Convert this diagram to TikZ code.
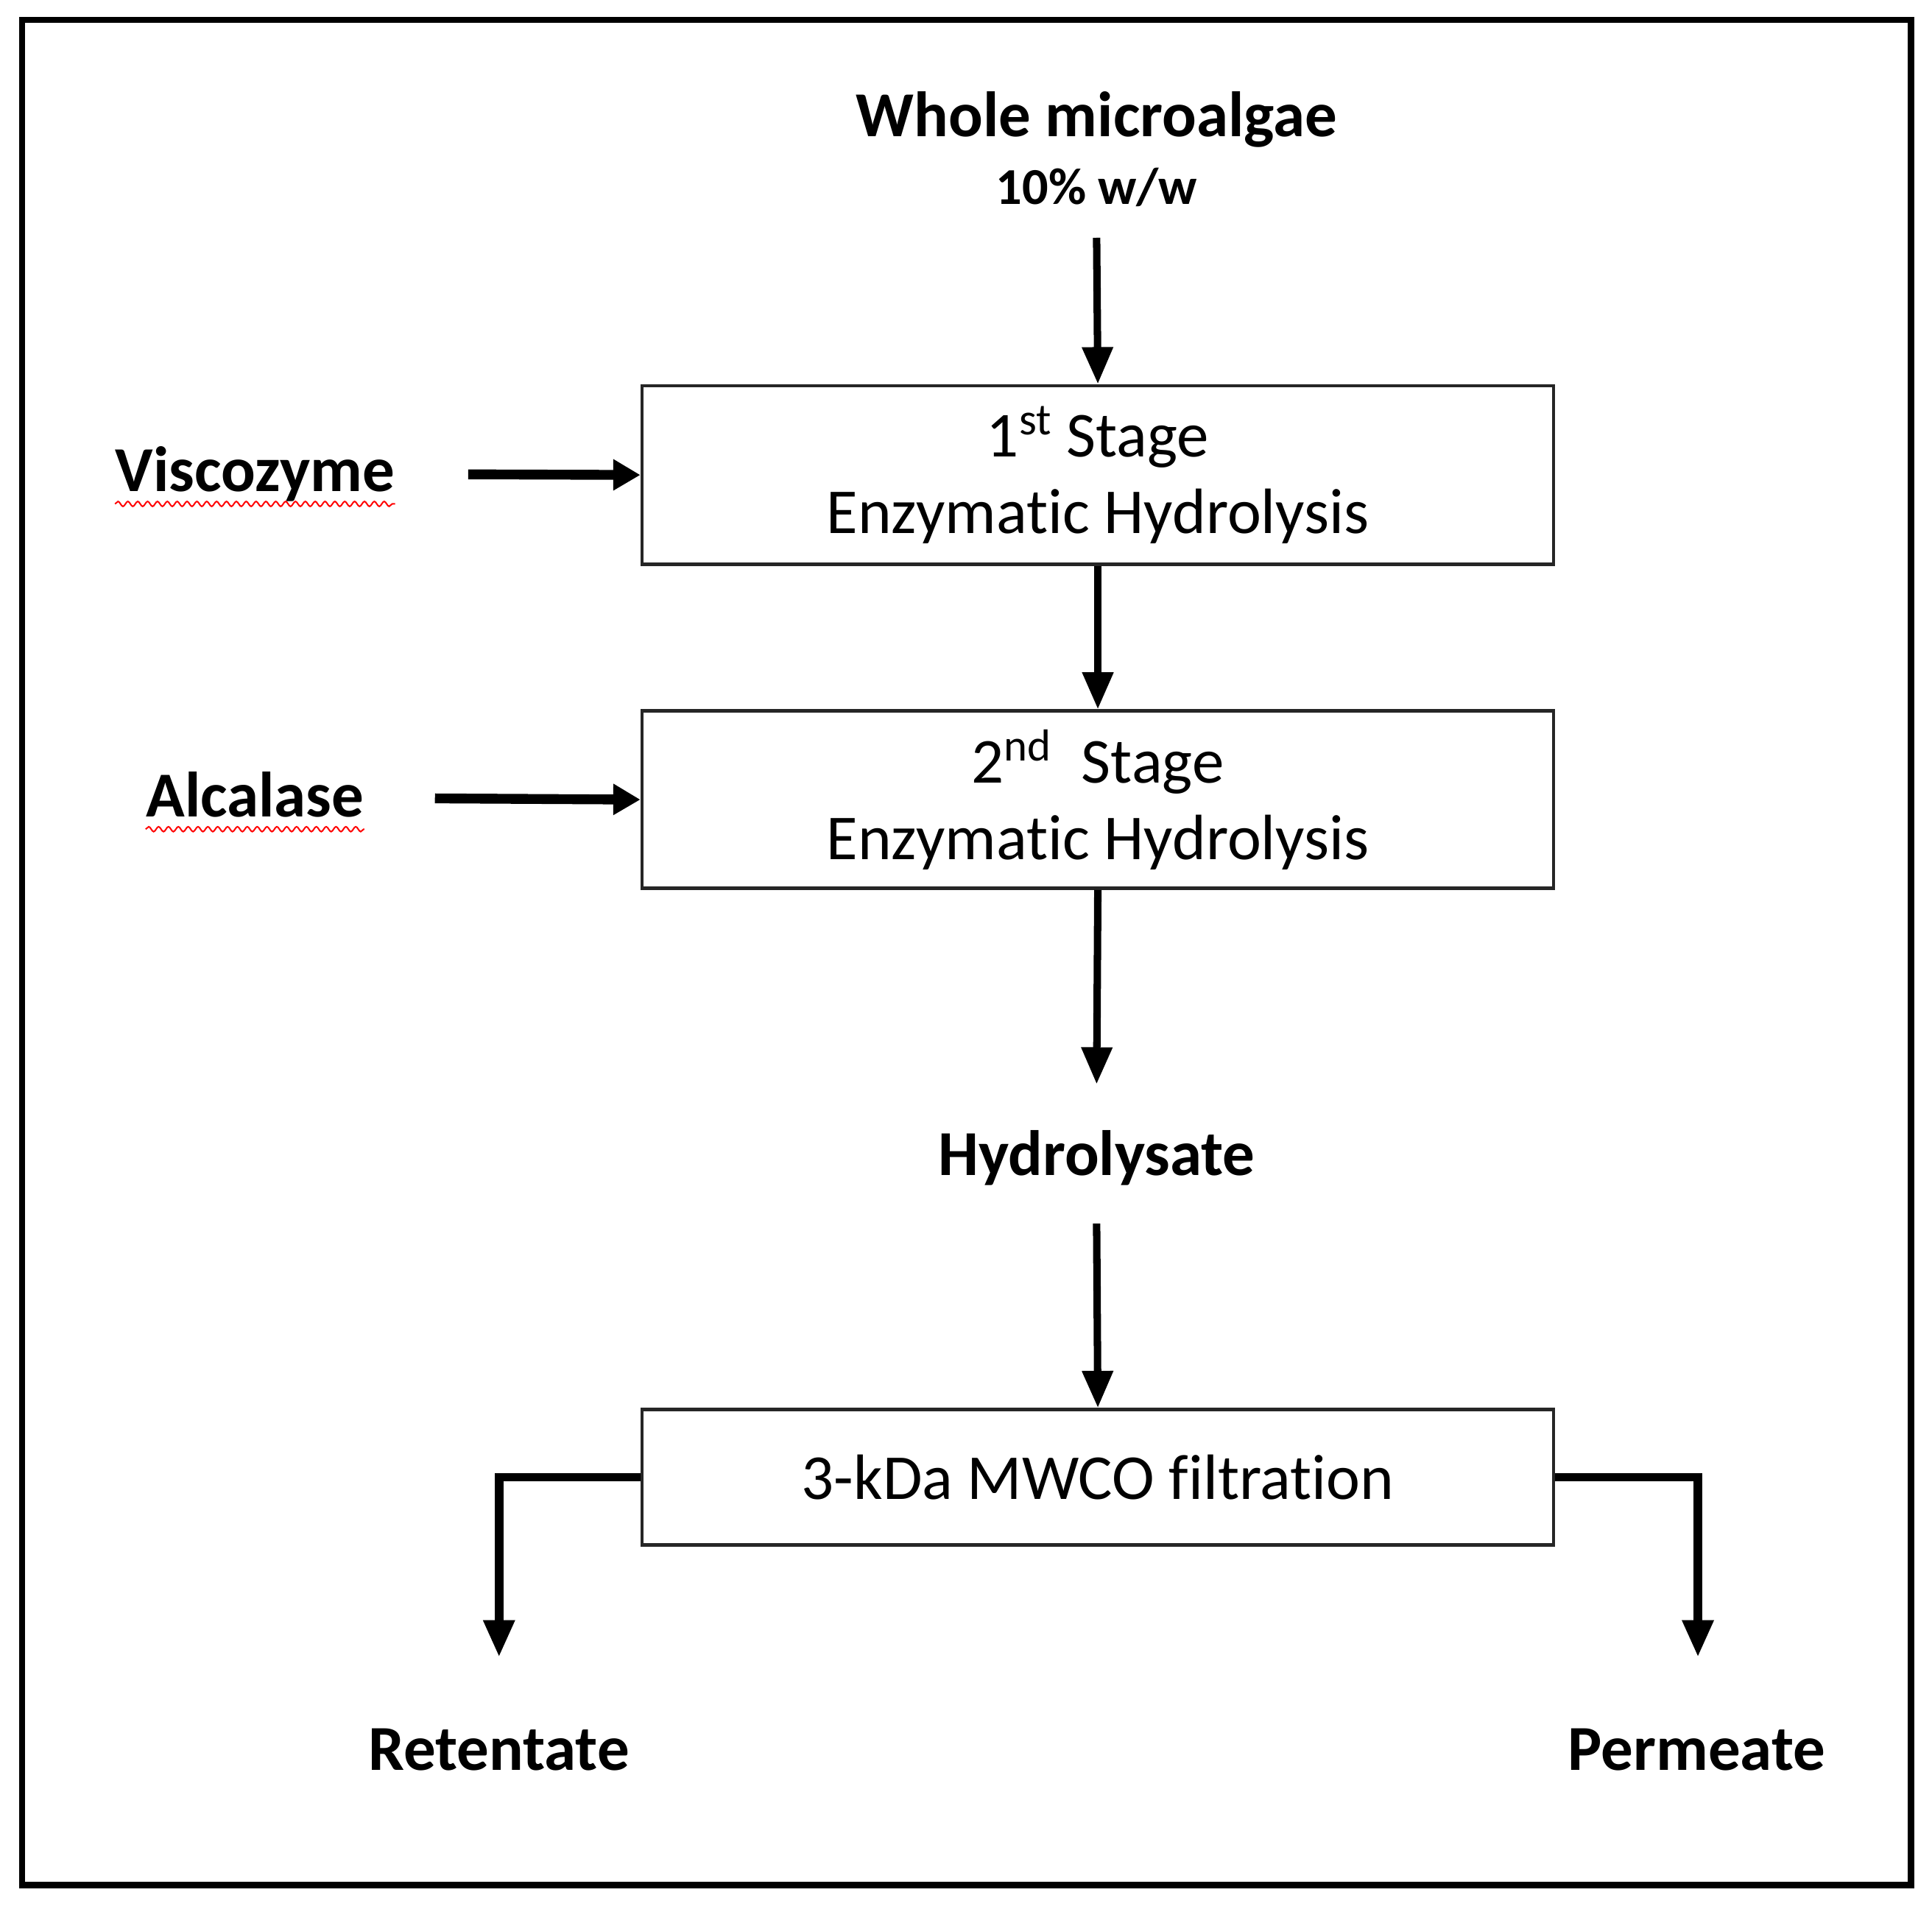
\documentclass[tikz,border=0pt]{standalone}
\usepackage{fontspec}
\setmainfont[Ligatures=NoCommon]{Carlito}
\usetikzlibrary{arrows.meta,decorations.pathmorphing}

\begin{document}
\begin{tikzpicture}[x=0.5pt,y=-0.5pt]
	\tikzstyle{every node}=[inner sep=0pt]
	\tikzstyle{stagebox}=[draw=black!85, line width=1.3pt, minimum width=370pt, align=center, font=\fontsize{26}{31}\selectfont]
	\tikzstyle{label}=[font=\fontsize{26}{31}\selectfont\bfseries, anchor=base]
	\tikzstyle{flow}=[-{Triangle[length=15pt,width=12pt]}, line width=3pt]
	\tikzstyle{feed}=[-{Triangle[length=11pt,width=12pt]}, line width=4pt]
	\tikzstyle{spell}=[red, line width=0.6pt, decorate, decoration={snake, amplitude=1pt, segment length=4pt}]

	%% frame
	\useasboundingbox (0,0) rectangle (1568,1549);
	\draw [line width=2.5pt] (18,16) rectangle (1551,1530);

	%% feed and boxes
	\node [label] (whole) at (890,111) {Whole microalgae};
	\node [label, font=\fontsize{21}{25}\selectfont\bfseries] (conc) at (890,166) {10\% w/w};
	\node [stagebox, minimum height=72.5pt] (stage1) at (891,385.5) {1\textsuperscript{st} Stage\\Enzymatic Hydrolysis};
	\node [stagebox, minimum height=72pt] (stage2) at (891,649) {2\textsuperscript{nd}\ \ Stage\\Enzymatic Hydrolysis};
	\node [label] (visc) at (207,399) {Viscozyme};
	\node [label] (alca) at (207,663) {Alcalase};
	\node [label] (hydro) at (890,954) {Hydrolysate};
	\node [stagebox, minimum height=55pt] (filt) at (891,1199) {3-kDa MWCO filtration};
	\node [label] (ret) at (405,1437) {Retentate};
	\node [label] (perm) at (1377,1437) {Permeate};

	%% free ends
	\coordinate (in1) at (890,193);
	\coordinate (in2) at (380,385);
	\coordinate (in3) at (353,648);
	\coordinate (out2) at (890,880);
	\coordinate (in4) at (890,993);
	\coordinate (retend) at (405,1345);
	\coordinate (permend) at (1378,1345);

	%% arrows
	\draw [flow] (in1) -- (stage1.north);
	\draw [feed] (in2) -- (stage1.west);
	\draw [flow] (stage1.south) -- (stage2.north);
	\draw [feed] (in3) -- (stage2.west);
	\draw [flow] (stage2.south) -- (out2);
	\draw [flow] (in4) -- (filt.north);
	\draw [flow, line width=3.5pt] (filt.west) -| (retend);
	\draw [flow, line width=3.5pt] (filt.east) -| (permend);

	%% spell check marks
	\draw [spell] ([yshift=-5pt]visc.base west) -- ([yshift=-5pt]visc.base east);
	\draw [spell] ([yshift=-5pt]alca.base west) -- ([yshift=-5pt]alca.base east);

\end{tikzpicture}
\end{document}
